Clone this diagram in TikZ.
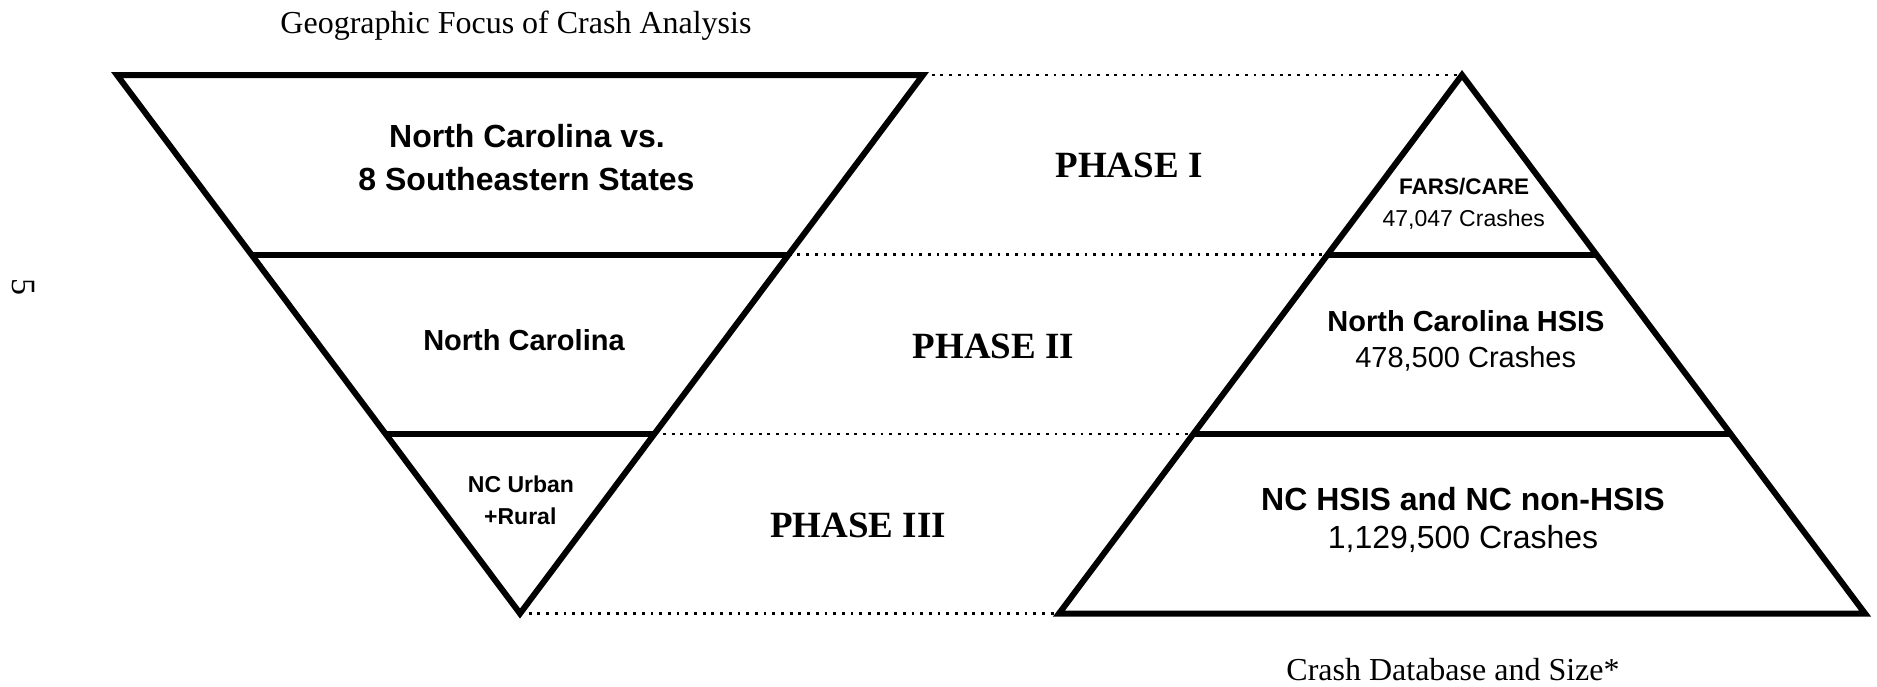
\documentclass[tikz,border=0pt]{standalone}
\usepackage{fontspec}
\setmainfont{Liberation Serif}
\newfontfamily\arialfont{Liberation Sans}
\begin{document}
\begin{tikzpicture}[x=0.5pt,y=-0.5pt,
  solidline/.style={line width=3pt, line join=miter},
  dotline/.style={line width=1.4pt, dash pattern=on 1.4pt off 2.95pt},
  txt/.style={anchor=base, inner sep=0pt},
  captionfont/.style={txt, font=\fontsize{16}{19}\selectfont},
  phasefont/.style={txt, font=\fontsize{18.5}{22}\selectfont\bfseries},
  sansbold/.style={txt, font=\arialfont\fontsize{#1}{#1}\selectfont\bfseries},
  sansreg/.style={txt, font=\arialfont\fontsize{#1}{#1}\selectfont}]
\useasboundingbox (0,0) rectangle (1877,686);

% inverted triangle
\coordinate (ITL) at (117,75);
\coordinate (ITR) at (923,75);
\coordinate (IA) at (520,613.5);
\coordinate (I1L) at (251.3,254.5);
\coordinate (I1R) at (788.7,254.5);
\coordinate (I2L) at (385.7,434);
\coordinate (I2R) at (654.3,434);
% pyramid
\coordinate (PA) at (1462,75);
\coordinate (PBL) at (1059,613.5);
\coordinate (PBR) at (1865,613.5);
\coordinate (P1L) at (1327.7,254.5);
\coordinate (P1R) at (1596.3,254.5);
\coordinate (P2L) at (1193.3,434);
\coordinate (P2R) at (1730.7,434);

% dotted connectors
\draw[dotline] (ITR) -- (PA);
\draw[dotline] (I1R) -- (P1L);
\draw[dotline] (I2R) -- (P2L);
\draw[dotline] (IA) -- (PBL);

% shapes
\draw[solidline] (ITL) -- (ITR) -- (IA) -- cycle;
\draw[solidline] (I1L) -- (I1R);
\draw[solidline] (I2L) -- (I2R);
\draw[solidline] (PA) -- (PBR) -- (PBL) -- cycle;
\draw[solidline] (P1L) -- (P1R);
\draw[solidline] (P2L) -- (P2R);

% captions
\node[captionfont] (geo) at (516,33) {Geographic Focus of Crash Analysis};
\node[captionfont] (db) at (1453,680) {Crash Database and Size*};
\node[inner sep=0pt, font=\fontsize{17}{20}\selectfont, rotate=-90] (pg) at (23.5,287) {5};

% phases
\node[phasefont] (ph1) at (1129,177.7) {PHASE I};
\node[phasefont] (ph2) at (993.5,358) {PHASE II};
\node[phasefont] (ph3) at (858,537) {PHASE III};

% inverted triangle texts
\node[sansbold=16] (g1a) at (527,147.5) {North Carolina vs.};
\node[sansbold=16] (g1b) at (526.5,190.5) {8 Southeastern States};
\node[sansbold=14.5] (g2) at (524,350) {North Carolina};
\node[sansbold=11.5] (g3a) at (521,492.7) {NC Urban};
\node[sansbold=11.5] (g3b) at (520.3,524) {+Rural};

% pyramid texts
\node[sansbold=11.25] (d1a) at (1464,194.3) {FARS/CARE};
\node[sansreg=11.5] (d1b) at (1463.7,226) {47,047 Crashes};
\node[sansbold=14.5] (d2a) at (1466,331.7) {North Carolina HSIS};
\node[sansreg=14.5] (d2b) at (1465.7,367.7) {478,500 Crashes};
\node[sansbold=16] (d3a) at (1463,510) {NC HSIS and NC non-HSIS};
\node[sansreg=16] (d3b) at (1463,548.3) {1,129,500 Crashes};
\end{tikzpicture}
\end{document}
